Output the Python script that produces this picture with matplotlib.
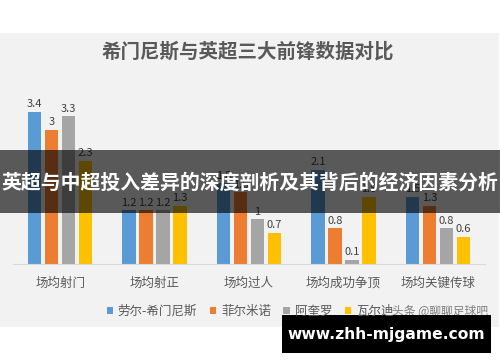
import matplotlib

matplotlib.use("Agg")
import matplotlib.pyplot as plt
import numpy as np
from matplotlib.patches import Rectangle

plt.rcParams["font.family"] = ["Noto Sans CJK SC", "DejaVu Sans"]

W, H = 500, 362

categories = ["场均射门", "场均射正", "场均过人", "场均成功争顶", "场均关键传球"]
players = ["劳尔-希门尼斯", "菲尔米诺", "阿奎罗", "瓦尔迪"]
jimenez = [3.4, 1.2, 1.8, 2.1, 1.5]
firmino = [3.0, 1.2, 1.6, 0.8, 1.3]
aguero = [3.3, 1.2, 1.0, 0.1, 0.8]
vardy = [2.3, 1.3, 0.7, 1.5, 0.6]
series = [jimenez, firmino, aguero, vardy]
colors = ["#5B9BD5", "#ED7D31", "#A5A5A5", "#FFC000"]

TITLE = "希门尼斯与英超三大前锋数据对比"
BANNER = "英超与中超投入差异的深度剖析及其背后的经济因素分析"
SITE = "www.zhh-mjgame.com"
SOURCE = "头条 @聊聊足球吧"


def fx(px):
    return px / W


def fy(py):
    return 1 - py / H


fig = plt.figure(figsize=(5, 3.62), dpi=100)
fig.patch.set_facecolor("white")

# chart area background
fig.patches.append(Rectangle((0, fy(327)), fx(499), fy(33) - fy(327),
                             transform=fig.transFigure, facecolor="#f2f2f2",
                             edgecolor="none", zorder=-10))

ax = fig.add_axes([fx(13), fy(264), fx(472), fy(85) - fy(264)])
ax.set_facecolor("none")
x = np.arange(len(categories))
step, width = 0.18, 0.143
for i, (vals, c) in enumerate(zip(series, colors)):
    pos = x + (i - 1.5) * step
    ax.bar(pos, vals, width=width, color=c, label=players[i])
    for p, v in zip(pos, vals):
        ax.text(p, v + 0.06, f"{v:g}", ha="center", va="bottom",
                fontsize=8, color="#404040")

ax.set_xlim(-0.5, len(categories) - 0.5)
ax.set_ylim(0, 4)
for s in ["top", "right", "left"]:
    ax.spines[s].set_visible(False)
ax.spines["bottom"].set_color("#d9d9d9")
ax.set_yticks([])
ax.set_xticks(x)
ax.set_xticklabels(categories, fontsize=9, color="#595959")
ax.tick_params(axis="x", length=0, pad=9)

fig.text(0.496, fy(52), TITLE, ha="center", va="center", fontsize=14,
         color="#595959", fontweight="bold")

fig.legend(loc="center", bbox_to_anchor=(0.5, fy(311)), ncol=4, frameon=False,
           fontsize=9, labelcolor="#595959", handlelength=0.5, handleheight=0.5,
           handletextpad=0.4, columnspacing=1.0)

fig.text(fx(440), fy(311), SOURCE, ha="center", va="center", fontsize=8.5,
         color="#7f7f7f")

# dark banner with white caption
fig.patches.append(Rectangle((0, fy(213)), 1, fy(150) - fy(213),
                             transform=fig.transFigure, facecolor="black",
                             alpha=0.63, edgecolor="none", zorder=5))
fig.text(0.5, fy(182), BANNER, ha="center", va="center", fontsize=14.3,
         color="white", fontweight="bold", zorder=6)

# site watermark
fig.patches.append(Rectangle((fx(282), fy(353)), fx(209), fy(315) - fy(353),
                             transform=fig.transFigure, facecolor="black",
                             edgecolor="none", zorder=5))
fig.text(fx(386), fy(335), SITE, ha="center", va="center", fontsize=11.2,
         color="white", fontweight="bold", family="DejaVu Sans", zorder=6)

fig.savefig("out.png", dpi=100, facecolor="white")
